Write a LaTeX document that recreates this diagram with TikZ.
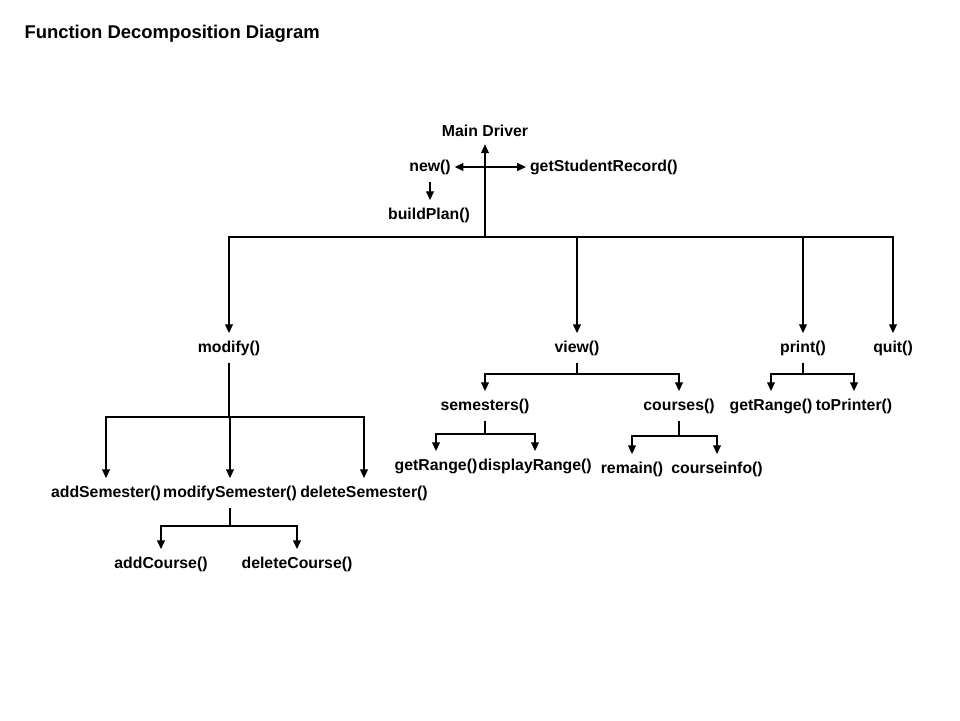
\documentclass[tikz,border=0pt]{standalone}
\usepackage{fontspec}
\setmainfont{Liberation Sans}
\usetikzlibrary{arrows.meta}

\begin{document}
\begin{tikzpicture}[x=0.02cm, y=-0.02cm, >={Triangle[length=5pt, width=4.5pt]}, line width=0.6pt,
    func/.style={font=\fontsize{9}{10}\selectfont\bfseries, inner xsep=2pt, inner ysep=4pt}]
    \useasboundingbox (0,0) rectangle (960,720);

    \node[anchor=west, inner sep=0pt, font=\fontsize{10.5}{12}\selectfont\bfseries] (title) at (24,34) {Function Decomposition Diagram};

    % top level
    \node[func] (main) at (485,131) {Main Driver};
    \node[func] (new) at (430,167) {new()};
    \node[func, anchor=west] (record) at (526,167) {getStudentRecord()};
    \node[func] (buildplan) at (429,215) {buildPlan()};

    \node[func] (modify) at (229,348) {modify()};
    \node[func] (view) at (577,348) {view()};
    \node[func] (print) at (803,348) {print()};
    \node[func] (quit) at (893,348) {quit()};

    % modify branch
    \node[func] (addsem) at (106,493) {addSemester()};
    \node[func] (modsem) at (230,493) {modifySemester()};
    \node[func] (delsem) at (364,493) {deleteSemester()};
    \node[func] (addcourse) at (161,564) {addCourse()};
    \node[func] (delcourse) at (297,564) {deleteCourse()};

    % view branch
    \node[func] (semesters) at (485,406) {semesters()};
    \node[func] (courses) at (679,406) {courses()};
    \node[func] (semrange) at (436,466) {getRange()};
    \node[func] (disprange) at (535,466) {displayRange()};
    \node[func] (remain) at (632,469) {remain()};
    \node[func] (courseinfo) at (717,469) {courseinfo()};

    % print branch
    \node[func] (prtrange) at (771,406) {getRange()};
    \node[func] (toprinter) at (854,406) {toPrinter()};

    \coordinate (mainbus) at (485,237);
    \coordinate (modbus) at (229,417);
    \coordinate (msbus) at (230,526);
    \coordinate (viewbus) at (577,374);
    \coordinate (sembus) at (485,434);
    \coordinate (coursebus) at (679,436);
    \coordinate (printbus) at (803,374);

    \draw[->] (mainbus) -- (main);
    \draw[<->] (new) -- (record);
    \draw[->] (new.south) -- (new.south |- buildplan.north);
    \draw[->] (mainbus) -| (modify);
    \draw[->] (mainbus) -| (view);
    \draw[->] (mainbus) -| (print);
    \draw[->] (mainbus) -| (quit);

    \draw (modify) -- (modbus);
    \draw[->] (modbus) -| (addsem);
    \draw[->] (modbus) -| (modsem);
    \draw[->] (modbus) -| (delsem);
    \draw (modsem) -- (msbus);
    \draw[->] (msbus) -| (addcourse);
    \draw[->] (msbus) -| (delcourse);

    \draw (view) -- (viewbus);
    \draw[->] (viewbus) -| (semesters);
    \draw[->] (viewbus) -| (courses);
    \draw (semesters) -- (sembus);
    \draw[->] (sembus) -| (semrange);
    \draw[->] (sembus) -| (disprange);
    \draw (courses) -- (coursebus);
    \draw[->] (coursebus) -| (remain);
    \draw[->] (coursebus) -| (courseinfo);

    \draw (print) -- (printbus);
    \draw[->] (printbus) -| (prtrange);
    \draw[->] (printbus) -| (toprinter);
\end{tikzpicture}
\end{document}
